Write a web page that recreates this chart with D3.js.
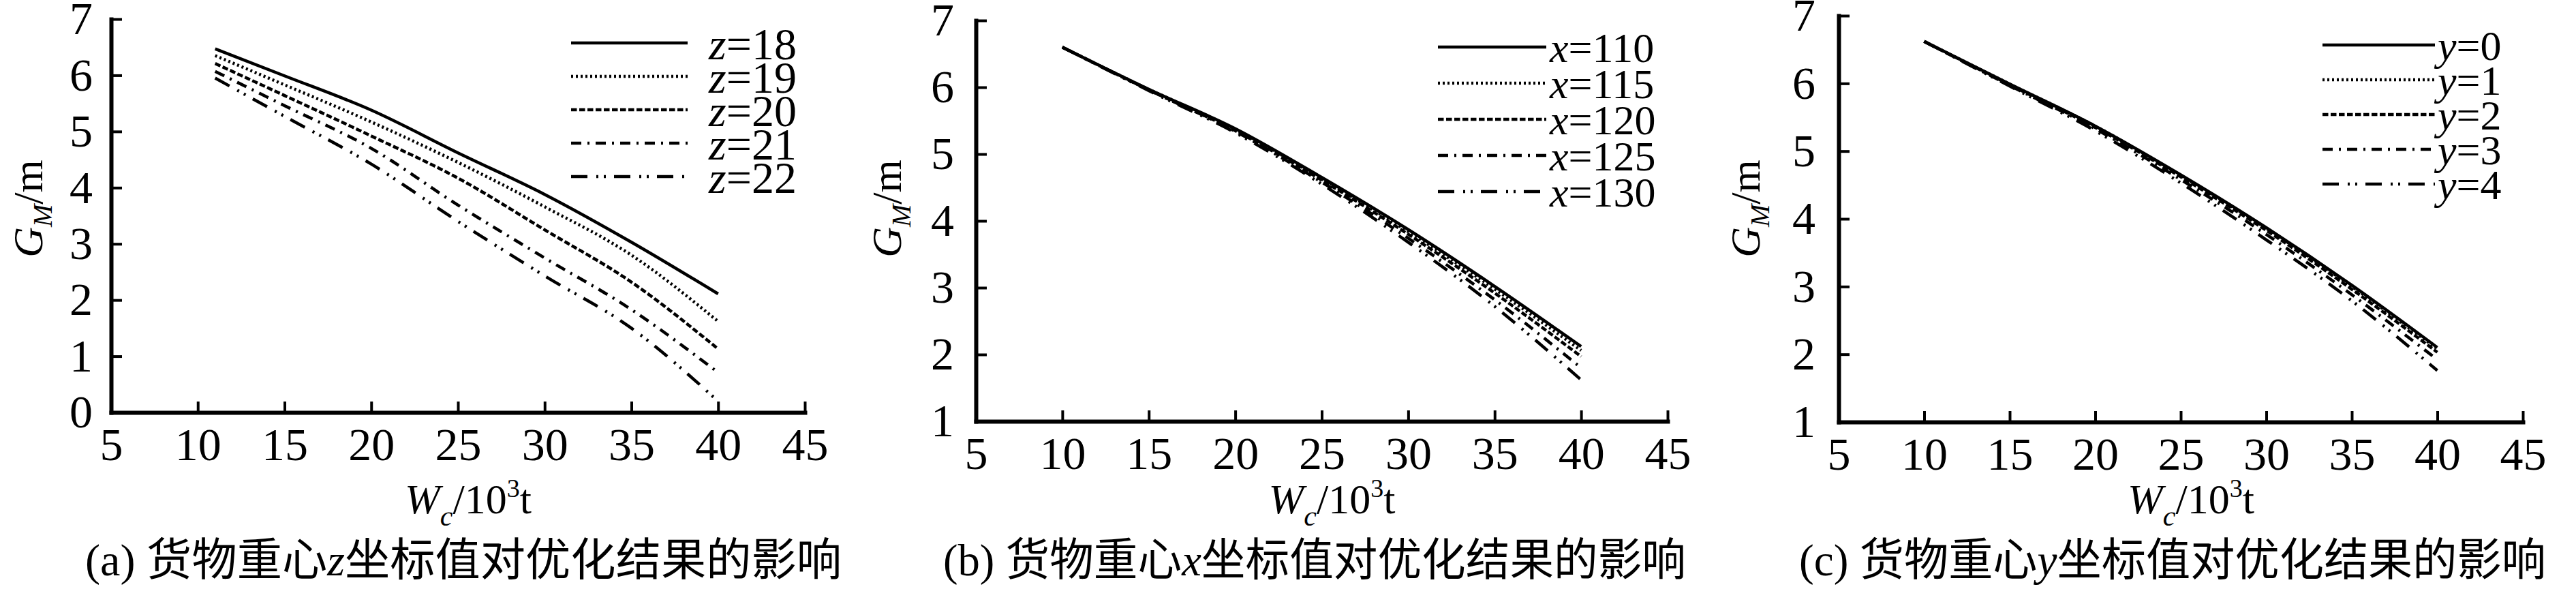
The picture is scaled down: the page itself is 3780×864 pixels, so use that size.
<!DOCTYPE html>
<html>
<head>
<meta charset="utf-8">
<script src="https://cdn.jsdelivr.net/npm/d3@7"></script>
<style>
  html, body { margin: 0; padding: 0; background: #fff; }
  svg { display: block; }
  text { fill: #000; }
</style>
</head>
<body>
<svg id="chart" width="3780" height="864"></svg>
<script>
// ---------------- data ----------------
const xTickValues = [5, 10, 15, 20, 25, 30, 35, 40, 45];
const yTicksA = [0, 1, 2, 3, 4, 5, 6, 7];
const yTicksBC = [1, 2, 3, 4, 5, 6, 7];

// (a) z of cargo centre of gravity
const wA = [11, 15, 20, 25, 30, 35, 40];
const gZ18 = [6.47, 5.99, 5.38, 4.62, 3.88, 3.03, 2.11];
const gZ19 = [6.35, 5.83, 5.17, 4.45, 3.66, 2.80, 1.62];
const gZ20 = [6.21, 5.64, 4.92, 4.17, 3.25, 2.32, 1.13];
const gZ21 = [6.07, 5.46, 4.70, 3.69, 2.75, 1.83, 0.71];
const gZ22 = [5.95, 5.27, 4.42, 3.40, 2.43, 1.50, 0.20];
const legendA = ["18", "19", "20", "21", "22"];

// (b) x of cargo centre of gravity
const wB = [10, 15, 20, 25, 30, 35, 40];
const gX110 = [6.60, 5.97, 5.38, 4.65, 3.87, 3.02, 2.12];
const gX115 = [6.60, 5.97, 5.37, 4.63, 3.84, 2.98, 2.06];
const gX120 = [6.60, 5.96, 5.35, 4.61, 3.80, 2.92, 1.97];
const gX125 = [6.60, 5.96, 5.34, 4.58, 3.74, 2.82, 1.80];
const gX130 = [6.60, 5.95, 5.32, 4.55, 3.68, 2.72, 1.62];
const legendB = ["110", "115", "120", "125", "130"];

// (c) y of cargo centre of gravity
const wC = [10, 15, 20, 25, 30, 35, 40];
const gY0 = [6.62, 5.99, 5.37, 4.65, 3.87, 3.02, 2.10];
const gY1 = [6.62, 5.99, 5.37, 4.64, 3.86, 3.00, 2.08];
const gY2 = [6.62, 5.98, 5.35, 4.62, 3.83, 2.96, 2.03];
const gY3 = [6.62, 5.97, 5.33, 4.58, 3.77, 2.88, 1.92];
const gY4 = [6.62, 5.96, 5.30, 4.53, 3.69, 2.79, 1.76];
const legendC = ["0", "1", "2", "3", "4"];

const captionA = ["(a) ", "货物重心", "z", "坐标值对优化结果的影响"];
const captionB = ["(b) ", "货物重心", "x", "坐标值对优化结果的影响"];
const captionC = ["(c) ", "货物重心", "y", "坐标值对优化结果的影响"];

// ---------------- styles ----------------
const dashes = [null, "3,4", "8.5,3.5", "15,9,3,9", "24,13,3,8,3,12"];
const SERIF = "'Liberation Serif', 'Times New Roman', serif";
const CJK = "'Noto Sans CJK SC', sans-serif";

const svg = d3.select("#chart");
svg.append("rect").attr("width", 3780).attr("height", 864).attr("fill", "#fff");

const panels = [
  { x0: 163, x1: 1181, yb: 605, yt: 28, ymin: 0, yTicks: yTicksA,
    w: wA, series: [gZ18, gZ19, gZ20, gZ21, gZ22], varName: "z", legend: legendA,
    lg: { x0: 838, x1: 1009, y: 63, dy: 49, tx: 1040, fs: 66 },
    yTitleX: -101, tickPad: 27, caption: captionA, capX: 680, capW: 1110 },
  { x0: 1432, x1: 2447, yb: 618, yt: 30, ymin: 1, yTicks: yTicksBC,
    w: wB, series: [gX110, gX115, gX120, gX125, gX130], varName: "x", legend: legendB,
    lg: { x0: 2110, x1: 2269, y: 69, dy: 53, tx: 2274, fs: 62 },
    yTitleX: -110, tickPad: 32, caption: captionB, capX: 1929, capW: 1090 },
  { x0: 2698, x1: 3702, yb: 619, yt: 23, ymin: 1, yTicks: yTicksBC,
    w: wC, series: [gY0, gY1, gY2, gY3, gY4], varName: "y", legend: legendC,
    lg: { x0: 3408, x1: 3573, y: 66, dy: 51, tx: 3577, fs: 62 },
    yTitleX: -116, tickPad: 34, caption: captionC, capX: 3188, capW: 1096 }
];

panels.forEach(p => {
  const x = d3.scaleLinear().domain([5, 45]).range([p.x0, p.x1]);
  const y = d3.scaleLinear().domain([p.ymin, 7]).range([p.yb, p.yt]);
  const g = svg.append("g");

  // axes
  const fmt = d3.format("d");
  const xAxis = d3.axisBottom(x).tickValues(xTickValues).tickFormat(fmt)
    .tickSizeInner(-16).tickSizeOuter(0).tickPadding(22);
  const yAxis = d3.axisLeft(y).tickValues(p.yTicks).tickFormat(fmt)
    .tickSizeInner(-16).tickSizeOuter(0).tickPadding(p.tickPad);

  const gx = g.append("g").attr("transform", `translate(0,${p.yb})`).call(xAxis);
  const gy = g.append("g").attr("transform", `translate(${p.x0},0)`).call(yAxis);
  [gx, gy].forEach(a => {
    a.attr("font-family", SERIF).attr("font-size", 68);
    a.select(".domain").attr("stroke", "#000").attr("stroke-width", 6).attr("stroke-linecap", "square");
    a.selectAll(".tick line").attr("stroke", "#000").attr("stroke-width", 4);
    a.selectAll(".tick text").attr("font-family", SERIF).attr("font-size", 68).attr("fill", "#000");
  });
  gx.selectAll(".tick").filter(d => d === 5).select("line").remove();
  gy.selectAll(".tick").filter(d => d === p.ymin).select("line").remove();

  // lines
  const line = d3.line().x((d, i) => x(p.w[i])).y(d => y(d)).curve(d3.curveMonotoneX);
  p.series.forEach((s, i) => {
    g.append("path")
      .attr("d", line(s))
      .attr("fill", "none")
      .attr("stroke", "#000")
      .attr("stroke-width", 4.5)
      .attr("stroke-dasharray", dashes[i])
      .attr("stroke-linecap", "butt");
  });

  // legend
  p.legend.forEach((lab, i) => {
    const ly = p.lg.y + i * p.lg.dy;
    g.append("line")
      .attr("x1", p.lg.x0).attr("x2", p.lg.x1).attr("y1", ly).attr("y2", ly)
      .attr("stroke", "#000").attr("stroke-width", 4.5)
      .attr("stroke-dasharray", dashes[i]);
    const t = g.append("text")
      .attr("x", p.lg.tx).attr("y", ly + p.lg.fs * 0.36)
      .attr("font-family", SERIF).attr("font-size", p.lg.fs);
    t.append("tspan").attr("font-style", "italic").text(p.varName);
    t.append("tspan").text("=" + lab);
  });

  // x axis title
  const cx = (p.x0 + p.x1) / 2 + 15;
  const xt = g.append("text")
    .attr("x", cx).attr("y", 753)
    .attr("text-anchor", "middle")
    .attr("font-family", SERIF).attr("font-size", 62);
  xt.append("tspan").attr("font-style", "italic").text("W");
  xt.append("tspan").attr("font-style", "italic").attr("font-size", 42).attr("dy", 18).text("c");
  xt.append("tspan").attr("dy", -18).text("/10");
  xt.append("tspan").attr("font-size", 38).attr("dy", -24).text("3");
  xt.append("tspan").attr("dy", 24).text("t");

  // y axis title
  const yt = g.append("text")
    .attr("transform", `translate(${p.x0 + p.yTitleX},306) rotate(-90)`)
    .attr("text-anchor", "middle")
    .attr("font-family", SERIF).attr("font-size", 62);
  yt.append("tspan").attr("font-style", "italic").text("G");
  yt.append("tspan").attr("font-style", "italic").attr("font-size", 40).attr("dy", 14).text("M");
  yt.append("tspan").attr("dy", -14).text("/m");

  // caption
  const cap = g.append("text")
    .attr("x", p.capX - p.capW / 2).attr("y", 844)
    .attr("font-size", 66)
    .attr("textLength", p.capW)
    .attr("lengthAdjust", "spacingAndGlyphs");
  cap.append("tspan").attr("font-family", SERIF).text(p.caption[0]);
  cap.append("tspan").attr("font-family", CJK).text(p.caption[1]);
  cap.append("tspan").attr("font-family", SERIF).attr("font-style", "italic").text(p.caption[2]);
  cap.append("tspan").attr("font-family", CJK).text(p.caption[3]);
});
</script>
</body>
</html>
